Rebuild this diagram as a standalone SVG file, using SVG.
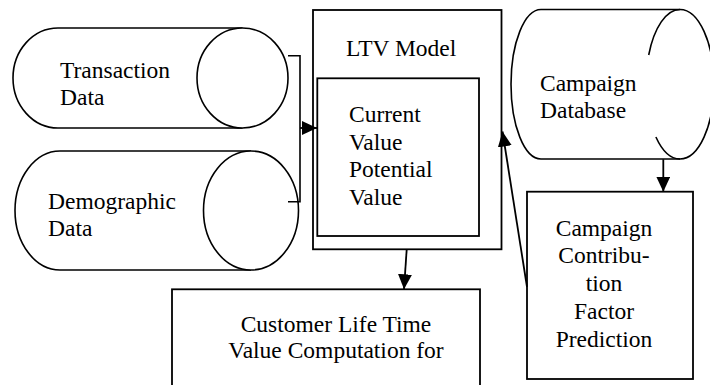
<svg xmlns="http://www.w3.org/2000/svg" width="710" height="385" viewBox="0 0 710 385" font-family="Liberation Serif, Times New Roman, serif" font-size="23.5">
<style>
text{fill:#000}
.s{fill:#fff;stroke:#000;stroke-width:1.6}
.b{fill:#fff;stroke:#000;stroke-width:1.8}
.c{fill:none;stroke:#000;stroke-width:1.8}
.m{text-anchor:middle}
</style>
<defs>
<marker id="ah" viewBox="0 0 15 14" refX="15" refY="7" markerWidth="15" markerHeight="14" markerUnits="userSpaceOnUse" orient="auto">
<path d="M0,0 L15,7 L0,14 z" fill="#000"/>
</marker>
</defs>
<rect width="710" height="385" fill="#fff"/>
<g id="transaction-data">
<path class="s" d="M242.5,28 L58,28 A45,50 0 0 0 58,128 L242.5,128"/>
<ellipse class="s" cx="242.5" cy="78" rx="45.5" ry="50"/>
<text x="60" y="77.7">Transaction</text>
<text x="60" y="105">Data</text>
</g>
<g id="demographic-data">
<path class="s" d="M251,151 L60,151 A45,59.5 0 0 0 60,270 L251,270"/>
<ellipse class="s" cx="251" cy="210.5" rx="47.5" ry="59.5"/>
<text x="48" y="209">Demographic</text>
<text x="48" y="235.7">Data</text>
</g>
<g id="ltv-model">
<rect class="b" x="313" y="10" width="188.5" height="239.3"/>
<text x="346" y="56">LTV Model</text>
<rect class="b" x="317.3" y="78.3" width="161.7" height="157.7"/>
<text x="349" y="122">Current</text>
<text x="349" y="150">Value</text>
<text x="349" y="177">Potential</text>
<text x="349" y="205">Value</text>
</g>
<g id="campaign-database">
<path class="s" d="M680,9.5 L541,9.5 A30,74.75 0 0 0 541,159 L680,159"/>
<path class="c" style="stroke-width:1.6" d="M680,9.5 A34,74.75 0 0 1 680,159"/>
<path class="c" style="stroke-width:1.6" d="M680,9.5 A34,74.75 0 0 0 648.7,55"/>
<path class="c" style="stroke-width:1.6" d="M655.9,137 A34,74.75 0 0 0 680,159"/>
<text x="540" y="90.7">Campaign</text>
<text x="540" y="118">Database</text>
</g>
<g id="campaign-contribution">
<rect class="b" x="527" y="191.7" width="166" height="187.3"/>
<text class="m" x="604" y="236">Campaign</text>
<text class="m" x="604" y="263.3">Contribu-</text>
<text class="m" x="604" y="291">tion</text>
<text class="m" x="604" y="319.3">Factor</text>
<text class="m" x="604" y="346.7">Prediction</text>
</g>
<g id="cltv-computation">
<rect class="b" x="172" y="289.3" width="308" height="120"/>
<text class="m" x="336" y="332">Customer Life Time</text>
<text class="m" x="336" y="358">Value Computation for</text>
</g>
<g id="connectors">
<polyline class="c" style="stroke-width:1.6" points="288,55.7 300,55.7 300,201.7 288,201.7"/>
<line class="c" x1="300" y1="128" x2="317" y2="128" marker-end="url(#ah)"/>
<line class="c" x1="406.7" y1="249.3" x2="404" y2="289.3" marker-end="url(#ah)"/>
<line class="c" x1="663.3" y1="159.3" x2="663.3" y2="191.7" marker-end="url(#ah)"/>
<line class="c" x1="527" y1="287" x2="502.5" y2="131.5" marker-end="url(#ah)"/>
</g>
</svg>
